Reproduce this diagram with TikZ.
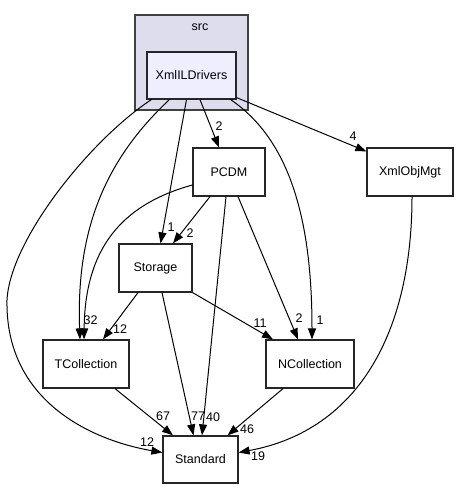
\documentclass[tikz,border=0pt]{standalone}
\usepackage{fontspec}
\setmainfont{Liberation Sans}
\usetikzlibrary{calc,arrows.meta}
\definecolor{srcfill}{HTML}{DDDDEE}
\definecolor{drvfill}{HTML}{EEEEFF}
\tikzset{
	dirbox/.style={draw=black!85, line width=1.2pt, fill=white, minimum height=48pt, inner sep=0pt, font=\fontsize{12.5}{14}\selectfont},
	dep/.style={draw=black, line width=1pt, -{Triangle[length=11pt,width=8pt]}},
	cnt/.style={font=\fontsize{12.5}{14}\selectfont, inner sep=0pt},
}
\begin{document}
\begin{tikzpicture}[x=1pt, y=-1pt]
			%%%%% START %%%%%
			\useasboundingbox (0,0) rectangle (458,489);
			
			\draw[line width=1.2pt, draw=black!75, fill=srcfill] (135,15) rectangle (248,110);
			\node[cnt] (srclbl) at (200,27) {src};
			\node[dirbox, fill=drvfill, minimum width=89pt, minimum height=47pt] (drv) at (191.5,75.5) {XmlILDrivers};
			
			\node[dirbox, minimum width=72pt] (pcdm) at (229,172) {PCDM};
			\node[dirbox, minimum width=86pt] (obj) at (410,172) {XmlObjMgt};
			\node[dirbox, minimum width=73pt] (stor) at (155.5,268) {Storage};
			\node[dirbox, minimum width=86pt] (tcol) at (86,364) {TCollection};
			\node[dirbox, minimum width=88pt] (ncol) at (310,364) {NCollection};
			\node[dirbox, minimum width=75pt, minimum height=47pt] (std) at (200.5,459.5) {Standard};
			
			\draw[dep] ($(drv.south west)+(5,0)$) .. controls (90,140) and (10,240) .. (7,300) .. controls (5,400) and (90,440) .. ($(std.west)+(0,-7)$);
			\draw[dep] ($(drv.south west)+(23,0)$) .. controls (105,160) and (76,230) .. ($(tcol.north)+(-6,0)$);
			\draw[dep] ($(drv.south)+(-5,0)$) -- ($(stor.north)+(5,0)$);
			\draw[dep] ($(drv.south)+(8.5,0)$) -- ($(pcdm.north)+(-10,0)$);
			\draw[dep] ($(drv.south east)+(-6,0)$) .. controls (290,140) and (312,220) .. ($(ncol.north)+(2,0)$);
			\draw[dep] ($(drv.south east)+(0,-2)$) -- ($(obj.north west)+(0,4)$);
			
			\draw[dep] ($(pcdm.west)+(0,13)$) .. controls (120,205) and (85,250) .. ($(tcol.north)+(-2,0)$);
			\draw[dep] ($(pcdm.south)+(-19,0)$) -- ($(stor.north)+(17.5,0)$);
			\draw[dep] ($(pcdm.south)+(-3,0)$) -- ($(std.north)+(1.5,0)$);
			\draw[dep] ($(pcdm.south)+(9,0)$) -- ($(ncol.north)+(-12,0)$);
			
			\draw[dep] ($(stor.south)+(-17.5,0)$) -- ($(tcol.north)+(17,0)$);
			\draw[dep] ($(stor.south)+(6.5,0)$) -- ($(std.north)+(-7,0)$);
			\draw[dep] (stor.south east) -- ($(ncol.north)+(-37,0)$);
			
			\draw[dep] ($(tcol.south)+(29,0)$) -- ($(std.north)+(-27.5,0)$);
			\draw[dep] ($(ncol.south)+(-27,0)$) -- ($(std.north)+(27,0)$);
			\draw[dep] ($(obj.south)+(2,0)$) .. controls (412,330) and (360,430) .. ($(std.east)+(0,-7)$);
			
			\node[cnt] (n12a) at (147,442) {12};
			\node[cnt] (n3) at (87,320) {3};
			\node[cnt] (n2a) at (94,320) {2};
			\node[cnt] (n12b) at (120,329) {12};
			\node[cnt] (n1a) at (171,227) {1};
			\node[cnt] (n2b) at (190,233) {2};
			\node[cnt] (n2c) at (219,126) {2};
			\node[cnt] (n4) at (353,136) {4};
			\node[cnt] (n11) at (260,323) {11};
			\node[cnt] (n2d) at (299,318) {2};
			\node[cnt] (n1b) at (320,320) {1};
			\node[cnt] (n67) at (163,416) {67};
			\node[cnt] (n77) at (198,416) {77};
			\node[cnt] (n40) at (213,417) {40};
			\node[cnt] (n46) at (247,429) {46};
			\node[cnt] (n19) at (258,456) {19};
			
			%%%%% END %%%%%
\end{tikzpicture}
\end{document}
